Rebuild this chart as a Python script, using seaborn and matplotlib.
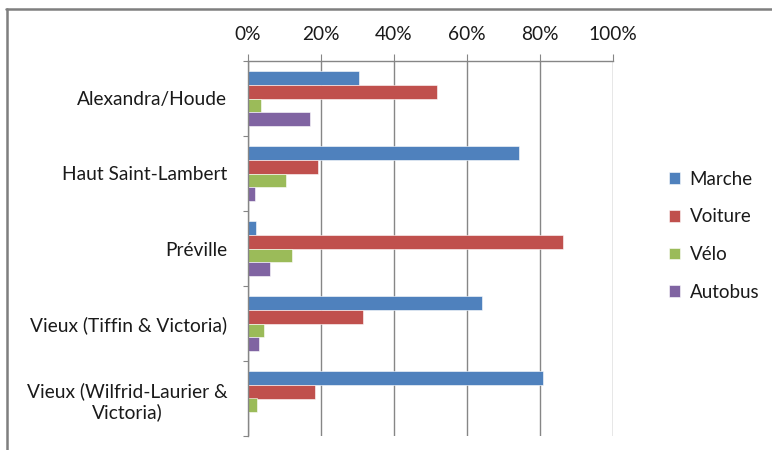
import matplotlib
matplotlib.use("Agg")
import matplotlib.pyplot as plt
import seaborn as sns
import pandas as pd
import numpy as np
from matplotlib.patches import Patch
from matplotlib.lines import Line2D
from matplotlib.ticker import FixedLocator, FuncFormatter

categories = ["Alexandra/Houde", "Haut Saint-Lambert", "Préville",
              "Vieux (Tiffin & Victoria)", "Vieux (Wilfrid-Laurier &\nVictoria)"]
modes = ["Marche", "Voiture", "Vélo", "Autobus"]
marche = [30.3, 74.3, 2.1, 64.2, 80.9]
voiture = [51.9, 19.2, 86.3, 31.5, 18.4]
velo = [3.6, 10.3, 12.1, 4.4, 2.4]
autobus = [16.9, 1.9, 6.1, 3.0, 0.0]
xticks = [0, 20, 40, 60, 80, 100]
colors = ["#4F81BD", "#C0504D", "#9BBB59", "#8064A2"]

rows = []
for mode, vals in zip(modes, [marche, voiture, velo, autobus]):
    for c, v in zip(categories, vals):
        rows.append({"Quartier": c, "Mode": mode, "Pct": v})
df = pd.DataFrame(rows)

sns.set_theme(style="white")
plt.rcParams["font.family"] = ["Lato", "DejaVu Sans"]
FS = 13.8

fig = plt.figure(figsize=(7.72, 4.5), dpi=100)
ax = fig.add_axes([248 / 772, 1 - 436 / 450, (613 - 248) / 772, (436 - 61) / 450])

sns.barplot(data=df, y="Quartier", x="Pct", hue="Mode", order=categories,
            hue_order=modes, palette=colors, saturation=1, orient="h", width=0.733,
            ax=ax, legend=False, edgecolor="#ffffff", linewidth=0.4)

ax.set_xlim(0, 100)
ax.set_ylim(len(categories) - 0.5, -0.5)
ax.set_xlabel("")
ax.set_ylabel("")

ax.xaxis.tick_top()
ax.set_xticks(xticks)
ax.xaxis.set_major_formatter(FuncFormatter(lambda v, p: f"{int(v)}%"))
ax.tick_params(axis="x", which="major", top=True, length=5, width=0.8,
               color="#868686", pad=8, labelsize=FS, labelcolor="#1a1a1a")
ax.grid(axis="x", color="#868686", linewidth=1.0)
ax.set_axisbelow(True)

ax.yaxis.set_minor_locator(FixedLocator(np.arange(-0.5, len(categories), 1.0)))
ax.tick_params(axis="y", which="major", left=False, length=0, pad=15,
               labelsize=FS, labelcolor="#1a1a1a")
ax.tick_params(axis="y", which="minor", left=True, length=3.5, width=0.8,
               color="#868686")
for lbl in ax.get_yticklabels():
    lbl.set_multialignment("center")

for s in ["bottom", "right"]:
    ax.spines[s].set_visible(False)
for s in ["top", "left"]:
    ax.spines[s].set_color("#868686")
    ax.spines[s].set_linewidth(1.0)

handles = [Patch(facecolor=c, edgecolor="white", linewidth=0.4) for c in colors]
fig.legend(handles, modes, loc="upper left", bbox_to_anchor=(652 / 772, 1 - 154 / 450),
           frameon=False, fontsize=13.5, handlelength=0.6, handleheight=0.6,
           handletextpad=0.5, labelspacing=1.1, labelcolor="#1a1a1a")

fig.add_artist(Line2D([6 / 772, 1.0], [1 - 8.5 / 450, 1 - 8.5 / 450],
                      transform=fig.transFigure, color="#7f7f7f", linewidth=1.8))
fig.add_artist(Line2D([6.5 / 772, 6.5 / 772], [0, 1 - 8.5 / 450],
                      transform=fig.transFigure, color="#7f7f7f", linewidth=1.8))

fig.savefig("out.png", dpi=100)
